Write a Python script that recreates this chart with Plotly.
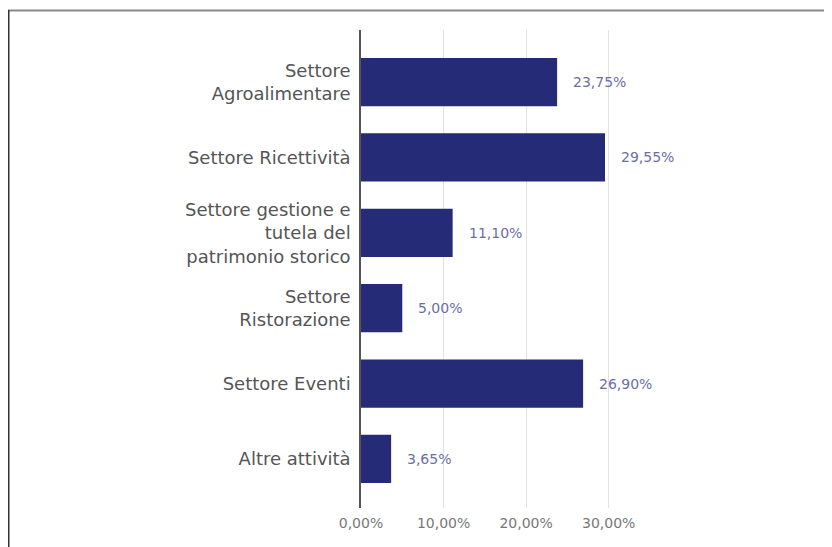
import plotly.graph_objects as go

categories = [
    "Settore<br>Agroalimentare",
    "Settore Ricettività",
    "Settore gestione e<br>tutela del<br>patrimonio storico",
    "Settore<br>Ristorazione",
    "Settore Eventi",
    "Altre attività",
]
values = [23.75, 29.55, 11.10, 5.00, 26.90, 3.65]
tick_vals = [0, 10, 20, 30]
tick_text = ["0,00%", "10,00%", "20,00%", "30,00%"]

BAR = "#262b78"
OFF = 8  # page body margin
W, H = 832 - OFF, 547 - OFF
L, R, T, B = 361 - OFF, 650 - OFF, 30 - OFF, 508 - OFF

fig = go.Figure(go.Bar(
    x=values, y=categories, orientation="h",
    marker=dict(color=BAR, line=dict(width=0)),
    hoverinfo="skip",
))

for c, v in zip(categories, values):
    fig.add_annotation(
        x=v, y=c, xref="x", yref="y", text=f"{v:.2f}%".replace(".", ","),
        showarrow=False, xanchor="left", xshift=14,
        font=dict(family="DejaVu Sans", size=14, color="#6b6ea6"),
    )

def px2x(px):
    return (px - L) / (R - L)

def py2y(py):
    return (B - py) / (B - T)

# frame lines (figure pixel coords)
fig.add_shape(type="line", xref="paper", yref="paper",
              x0=px2x(0), x1=px2x(W), y0=py2y(2.5), y1=py2y(2.5),
              line=dict(color="#8a8a8a", width=2))
fig.add_shape(type="line", xref="paper", yref="paper",
              x0=px2x(0.75), x1=px2x(0.75), y0=py2y(2), y1=py2y(H),
              line=dict(color="#333333", width=1.5))

fig.update_layout(
    width=W, height=H,
    margin=dict(l=L, r=W - R, t=T, b=H - B, pad=0),
    paper_bgcolor="white", plot_bgcolor="white",
    bargap=0.36,
    showlegend=False,
    xaxis=dict(
        range=[0, 35], tickvals=tick_vals, ticktext=tick_text,
        showgrid=True, gridcolor="#e2e2e2", gridwidth=1,
        zeroline=False, showline=False,
        tickfont=dict(family="DejaVu Sans", size=14, color="#777777"),
        ticks="", ticklabelstandoff=5,
    ),
    yaxis=dict(
        categoryorder="array", categoryarray=categories,
        range=[5.65, -0.69],
        showgrid=False, zeroline=False,
        showline=True, linecolor="#555555", linewidth=1.5,
        ticks="", ticklabelstandoff=5,
        tickfont=dict(family="DejaVu Sans", size=18, color="#555555"),
    ),
)

fig.write_html("out.html")
